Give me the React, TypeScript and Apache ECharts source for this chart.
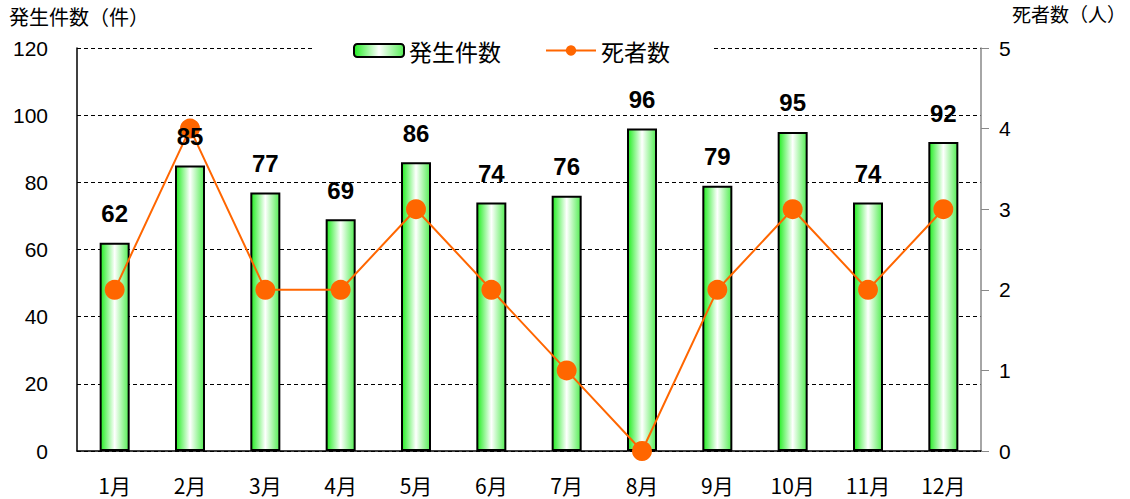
import React, { useEffect, useRef } from "react";
import * as echarts from "echarts";

const categories = ["1月", "2月", "3月", "4月", "5月", "6月", "7月", "8月", "9月", "10月", "11月", "12月"];
const incidents = [62, 85, 77, 69, 86, 74, 76, 96, 79, 95, 74, 92];
const deaths = [2, 4, 2, 2, 3, 2, 1, 0, 2, 3, 2, 3];
const leftTicks = { min: 0, max: 120, interval: 20 };
const rightTicks = { min: 0, max: 5, interval: 1 };

const JP = '"Noto Sans CJK JP", "Noto Sans", sans-serif';
const NUM = '"Liberation Sans Narrow", "Liberation Sans", Arial, sans-serif';

const barGradient = new echarts.graphic.LinearGradient(0, 0, 1, 0, [
  { offset: 0, color: "#22ee22" },
  { offset: 0.5, color: "#ffffff" },
  { offset: 1, color: "#55ee55" },
]);

export default function App() {
  const ref = useRef<HTMLDivElement>(null);
  useEffect(() => {
    const chart = echarts.init(ref.current!, null, { renderer: "svg" });
    chart.setOption({
      animation: false,
      backgroundColor: "#fff",
      grid: { left: 77, right: 149, top: 48, bottom: 48, containLabel: false },
      legend: {
        data: ["発生件数", "死者数"],
        left: 312,
        top: 37,
        padding: [2, 41, 2, 41],
        backgroundColor: "#fff",
        itemGap: 44,
        itemWidth: 50,
        itemHeight: 13,
        textStyle: { fontFamily: JP, fontSize: 23, color: "#000" },
      },
      graphic: [
        {
          type: "text",
          left: 9,
          top: 6,
          style: { text: "発生件数（件）", fontFamily: JP, fontSize: 20, fill: "#000" },
        },
        {
          type: "text",
          left: 1012,
          top: 4,
          style: { text: "死者数（人）", fontFamily: JP, fontSize: 19, fill: "#000" },
        },
      ],
      xAxis: {
        type: "category",
        data: categories,
        boundaryGap: true,
        axisLine: { lineStyle: { color: "#000", width: 1.5 } },
        axisTick: { inside: true, length: 8, lineStyle: { color: "#000" } },
        axisLabel: { fontFamily: JP, fontSize: 21, color: "#000", margin: 23 },
      },
      yAxis: [
        {
          type: "value",
          min: leftTicks.min,
          max: leftTicks.max,
          interval: leftTicks.interval,
          axisLine: { show: true, lineStyle: { color: "#000", width: 1.5 } },
          axisTick: { show: false },
          axisLabel: { fontFamily: NUM, fontSize: 21, color: "#000", margin: 29 },
          splitLine: { show: true, lineStyle: { color: "#000", type: [4, 3], width: 1 } },
        },
        {
          type: "value",
          min: rightTicks.min,
          max: rightTicks.max,
          interval: rightTicks.interval,
          position: "right",
          axisLine: { show: true, lineStyle: { color: "#888", width: 1.5 } },
          axisTick: { show: true, length: 8, lineStyle: { color: "#888" } },
          axisLabel: { fontFamily: NUM, fontSize: 21, color: "#000", margin: 18 },
          splitLine: { show: false },
        },
      ],
      series: [
        {
          name: "発生件数",
          type: "bar",
          data: incidents,
          barWidth: 30,
          z: 2,
          itemStyle: { color: barGradient, borderColor: "#000", borderWidth: 2 },
        },
        {
          name: "死者数",
          type: "line",
          yAxisIndex: 1,
          data: deaths,
          z: 5,
          color: "#ff6600",
          symbol: "circle",
          symbolSize: 20,
          lineStyle: { color: "#ff6600", width: 2 },
          itemStyle: { color: "#ff6600" },
        },
        {
          name: "labels",
          type: "bar",
          data: incidents,
          barWidth: 30,
          barGap: "-100%",
          z: 10,
          silent: true,
          itemStyle: { color: "transparent", borderWidth: 0 },
          label: {
            show: true,
            position: "top",
            distance: 17,
            fontFamily: NUM,
            fontWeight: "bold",
            fontSize: 24,
            color: "#000",
          },
        },
      ],
    });
    return () => chart.dispose();
  }, []);
  return (
    <div
      ref={ref}
      style={{ position: "absolute", left: 0, top: 0, width: 1130, height: 499 }}
    />
  );
}
